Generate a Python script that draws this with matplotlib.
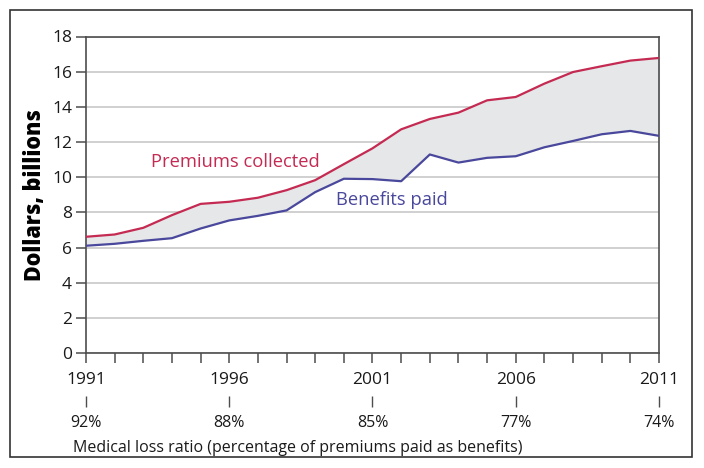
import matplotlib
matplotlib.use("Agg")
import matplotlib.pyplot as plt
from matplotlib.patches import Rectangle

years = list(range(1991, 2012))
premiums = [6.61, 6.74, 7.12, 7.84, 8.48, 8.60, 8.83, 9.26, 9.83, 10.74, 11.64,
            12.72, 13.31, 13.67, 14.37, 14.56, 15.32, 15.98, 16.31, 16.63, 16.78]
benefits = [6.10, 6.21, 6.38, 6.53, 7.08, 7.54, 7.80, 8.11, 9.15, 9.91, 9.89,
            9.77, 11.29, 10.83, 11.10, 11.19, 11.70, 12.06, 12.44, 12.63, 12.35]
label_years = [1991, 1996, 2001, 2006, 2011]
loss_ratio = ["92%", "88%", "85%", "77%", "74%"]

red = "#C42A52"
blue = "#4A489C"
dark = "#4D4D4D"

plt.rcParams['font.family'] = ['Open Sans', 'DejaVu Sans']

fig = plt.figure(figsize=(7.04, 4.68), dpi=100)
ax = fig.add_axes([86/704, 1-353/468, (659-86)/704, (353-36.5)/468])

ax.fill_between(years, benefits, premiums, color="#E6E7E8", lw=0, zorder=1)
ax.plot(years, premiums, color=red, lw=1.6, zorder=3)
ax.plot(years, benefits, color=blue, lw=1.6, zorder=3)

ax.set_xlim(1991, 2011)
ax.set_ylim(0, 18)
ax.set_yticks(range(0, 19, 2))
ax.yaxis.grid(True, color="#C8C8C8", lw=1.2, zorder=0)
ax.set_axisbelow(True)
ax.set_xticks(years)
ax.set_xticklabels([str(y) if y in label_years else "" for y in years])
for s in ax.spines.values():
    s.set_color(dark)
    s.set_linewidth(1.2)
ax.tick_params(axis="both", colors=dark, labelcolor="#1a1a1a", labelsize=12.5,
               length=7, width=1.1)
ax.tick_params(axis="y", pad=3)
ax.tick_params(axis="x", pad=7)

ax.set_ylabel("Dollars, billions", fontsize=15.5, fontweight="heavy", labelpad=4)

ax.text(1993.27, 10.59, "Premiums collected", color=red, fontsize=13.2, va="baseline")
ax.text(1999.72, 8.41, "Benefits paid", color=blue, fontsize=13.2, va="baseline")

sec = ax.secondary_xaxis(-0.135)
sec.set_xticks(label_years)
sec.set_xticklabels(loss_ratio)
sec.spines["bottom"].set_visible(False)
sec.tick_params(axis="x", colors=dark, labelcolor="#1a1a1a", labelsize=11.5,
                length=8, width=1.0, pad=6)

fig.text(73/704, 1-448/468, "Medical loss ratio (percentage of premiums paid as benefits)",
         fontsize=11.5, color="#1a1a1a", va="center", ha="left")

fig.patches.append(Rectangle((10/704, 1-457/468), 682/704, 447/468,
                             transform=fig.transFigure, fill=False,
                             edgecolor="#333333", lw=1.2))

fig.savefig("out.png", dpi=100)
